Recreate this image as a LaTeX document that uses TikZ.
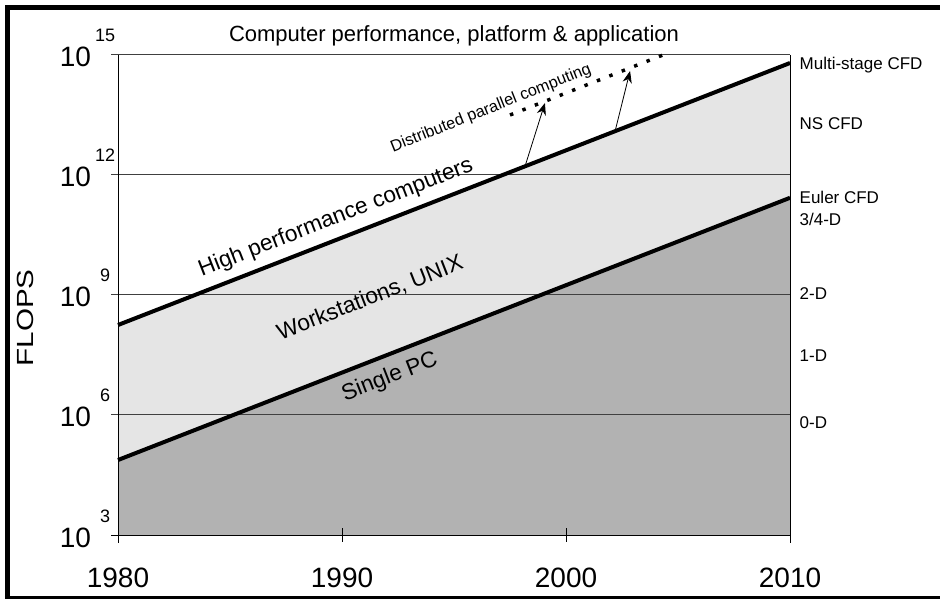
\documentclass[tikz,border=0pt]{standalone}
\usepackage{fontspec}
\setmainfont{Liberation Sans}
\usetikzlibrary{arrows.meta}
\begin{document}
\begin{tikzpicture}[x=16.8pt,y=30pt,
    bigtxt/.style={font=\fontsize{21}{25}\selectfont},
    suptxt/.style={font=\fontsize{13.5}{16}\selectfont},
    slanttxt/.style={font=\fontsize{17}{20}\selectfont,rotate=21.3},
    sidetxt/.style={font=\fontsize{12.75}{15}\selectfont,anchor=base west,inner xsep=0pt},
    gridline/.style={black!75,line width=0.75pt},
    trendline/.style={black,line width=3pt}]
    \useasboundingbox (-5.268,1.4) rectangle (36.696,16.375);
    \draw [line width=4pt] (-4.933,1.4375) -- (-4.933,16.1875) -- (36.696,16.1875);
    \draw [line width=2.25pt] (-5.05,1.4375) -- (36.696,1.4375);
    \coordinate (pc-start) at (0,4.875);
    \coordinate (pc-end) at (30,11.43);
    \coordinate (hpc-start) at (0,8.25);
    \coordinate (hpc-end) at (30,14.8);
    \fill [black!30] (0,3) -- (pc-start) -- (pc-end) -- (30,3) -- cycle;
    \fill [black!10] (pc-start) -- (hpc-start) -- (hpc-end) -- (pc-end) -- cycle;
    \foreach \e in {6,9,12,15}
        \draw [gridline] (-0.3125,\e) -- (30,\e);
    \draw [black,line width=0.75pt] (-0.3125,3) -- (30,3);
    \draw [black,line width=0.75pt] (0,15) -- (0,2.8);
    \draw [black,line width=0.75pt] (30,15) -- (30,2.8);
    \draw [black,line width=0.75pt] (10,3.175) -- (10,2.825);
    \draw [black,line width=0.75pt] (20,3.175) -- (20,2.825);
    \draw [trendline] (pc-start) -- (pc-end);
    \draw [trendline] (hpc-start) -- (hpc-end);
    \coordinate (par-start) at (17.5,13.5);
    \coordinate (par-end) at (24.33,15.0);
    \draw [black,line width=2.6pt,dash pattern=on 2.6pt off 7.4pt] (par-start) -- (par-end);
    \coordinate (hpc-a) at (18.17,12.217);
    \coordinate (par-a) at (19.06,13.8);
    \coordinate (hpc-b) at (22.19,13.095);
    \coordinate (par-b) at (22.86,14.6);
    \draw [-{Stealth[length=9pt,width=7pt]},line width=0.6pt] (hpc-a) -- (par-a);
    \draw [-{Stealth[length=9pt,width=7pt]},line width=0.6pt] (hpc-b) -- (par-b);
    \foreach \e in {3,6,9,12,15} {
        \node [bigtxt,anchor=base] (ten-\e) at (-1.9,\e-0.3) {10};
        \node [suptxt,anchor=base] (exp-\e) at (-0.58,\e+0.325) {\e};
    }
    \foreach \yr [count=\i from 0] in {1980,1990,2000,2010}
        \node [bigtxt,anchor=base] (yr-\yr) at (10*\i,1.7) {\yr};
    \node [font=\fontsize{16.5}{20}\selectfont,anchor=base] (title) at (15,15.33) {Computer performance, platform \& application};
    \node [font=\fontsize{17.5}{21}\selectfont,rotate=90] (flops) at (-4.15,8.425) {\scalebox{1.27}[1]{FLOPS}};
    \node [slanttxt] (hpc-label) at (9.73,10.925) {High performance computers};
    \node [slanttxt] (ws-label) at (11.25,8.925) {Workstations, UNIX};
    \node [slanttxt] (pc-label) at (12.14,6.94) {Single PC};
    \node [font=\fontsize{12.2}{14}\selectfont,rotate=21.8] (par-label) at (16.65,13.66) {Distributed parallel computing};
    \node [sidetxt] (multi) at (30.42,14.625) {Multi-stage CFD};
    \node [sidetxt] (ns) at (30.42,13.125) {NS CFD};
    \node [sidetxt] (euler) at (30.42,11.275) {Euler CFD};
    \node [sidetxt] (d34) at (30.42,10.725) {3/4-D};
    \node [sidetxt] (d2) at (30.42,8.875) {2-D};
    \node [sidetxt] (d1) at (30.42,7.325) {1-D};
    \node [sidetxt] (d0) at (30.42,5.65) {0-D};
\end{tikzpicture}
\end{document}
